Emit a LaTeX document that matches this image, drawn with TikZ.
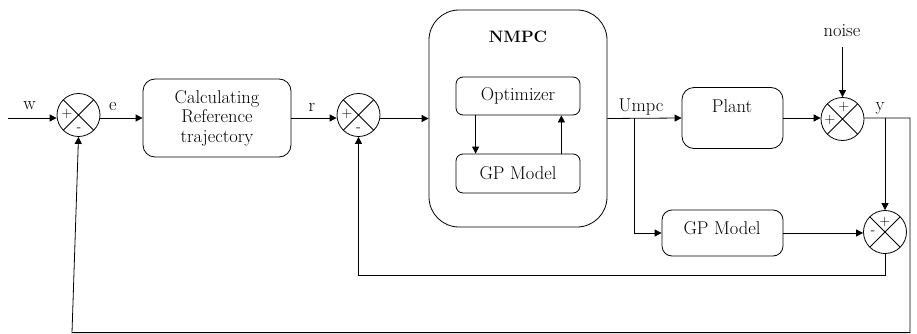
\documentclass[tikz,border=0pt]{standalone}
\usetikzlibrary{arrows.meta,calc}
\begin{document}
\begin{tikzpicture}[x=1pt,y=-1pt,
  every node/.style={font=\fontsize{18.5}{19.5}\selectfont},
  blk/.style={draw, line width=0.8pt, rounded corners=#1, inner sep=0pt, align=center},
  blk/.default=8pt,
  sumnode/.style={draw, circle, line width=0.8pt, minimum size=43pt, inner sep=0pt,
    path picture={\draw[line width=0.8pt]
      (path picture bounding box.north west) -- (path picture bounding box.south east)
      (path picture bounding box.north east) -- (path picture bounding box.south west);}},
  sig/.style={font=\fontsize{14.5}{14.5}\selectfont, inner sep=0pt},
  lbl/.style={inner sep=0pt},
  wire/.style={line width=0.8pt},
  arr/.style={wire, -{Triangle[length=7pt,width=7pt]}},
]
\useasboundingbox (0,0) rectangle (917,334);

% summing junctions
\node[sumnode] (sum1) at (78.5,115) {};
\node[sumnode] (sum2) at (358.5,115) {};
\node[sumnode] (sum3) at (842.5,119) {};
\node[sumnode] (sum4) at (885,232) {};

\node[sig] (s1p) at (67,114) {+};
\node[sig] (s1m) at (79,130) {-};
\node[sig] (s2p) at (347,114) {+};
\node[sig] (s2m) at (358.5,130) {-};
\node[sig] (s3t) at (844,107) {+};
\node[sig] (s3l) at (830,120) {+};
\node[sig] (s4t) at (885,222) {+};
\node[sig] (s4l) at (873,233) {-};

% blocks
\node[blk=12pt, minimum width=148pt, minimum height=78pt] (calc) at (217,118)
  {Calculating\\Reference\\trajectory};
\node[blk=30pt, minimum width=178pt, minimum height=217pt] (nmpc) at (518,118.5) {};
\node[lbl, font=\fontsize{16.5}{19}\selectfont\bfseries] (nmpclbl) at (518,37) {NMPC};
\node[blk=7pt, minimum width=124pt, minimum height=38pt] (opt) at (518,96) {Optimizer};
\node[blk=7pt, minimum width=124pt, minimum height=39pt] (gp1) at (518,173.5) {GP Model};
\node[blk=12pt, minimum width=101pt, minimum height=61pt] (plant) at (732.5,118) {};
\node[lbl] (plantlbl) at (732,106) {Plant};
\node[blk=10pt, minimum width=121pt, minimum height=46pt] (gp2) at (722.5,233) {};
\node[lbl] (gp2lbl) at (722,228) {GP Model};

% signal labels
\node[lbl] (wl) at (29.5,106) {w};
\node[lbl] (el) at (113,106) {e};
\node[lbl] (rl) at (312,107) {r};
\node[lbl] (ul) at (641,107) {Umpc};
\node[lbl] (yl) at (880,108) {y};
\node[lbl] (noise) at (842,31) {noise};

% helper points
\coordinate (src) at (8,118);
\coordinate (ub) at (634,118);
\coordinate (ns) at (842.5,47);
\coordinate (yb) at (885,118);
\coordinate (yr) at (910,118);
\coordinate (bl) at (72,332.6);
\coordinate (fb) at (0,275);

% forward path
\draw[arr] (src) -- (src -| sum1.west);
\draw[arr] (sum1.east |- calc.west) -- (calc.west);
\draw[arr] (calc.east) -- (calc.east -| sum2.west);
\draw[arr] (sum2.east |- nmpc.west) -- (nmpc.west);
\draw[arr] ([xshift=20pt]opt.south west) -- ([xshift=20pt]gp1.north west);
\draw[arr] ([xshift=-19pt]gp1.north east) -- ([xshift=-19pt]opt.south east);
\draw[arr] (nmpc.east) -- (plant.west);
\draw[arr] (ub) |- (gp2.west);
\draw[arr] (plant.east) -- (plant.east -| sum3.west);
\draw[arr] (ns) -- (sum3.north);

% feedback paths
\draw[arr] (sum3.east |- plant.east) -- (yr) -- (yr |- bl) -- (bl) -- (sum1.south);
\draw[arr] (yb) -- (sum4.north);
\draw[arr] (gp2.east) -- (gp2.east -| sum4.west);
\draw[arr] (sum4.south) -- (sum4.south |- fb) -- (sum2.south |- fb) -- (sum2.south);
\end{tikzpicture}
\end{document}
